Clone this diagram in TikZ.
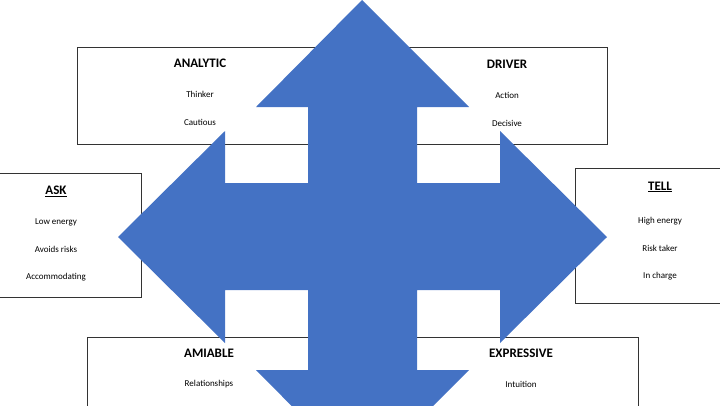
\documentclass[tikz,border=0pt]{standalone}
\usepackage{fontspec}
\setmainfont{Carlito}
\definecolor{arrowblue}{HTML}{4472C4}
\begin{document}
\begin{tikzpicture}[x=1pt,y=-1pt,
  box/.style={draw=black!80,line width=0.8pt},
  head/.style={font=\bfseries\fontsize{13}{15}\selectfont},
  item/.style={font=\fontsize{9}{11}\selectfont}]
\useasboundingbox (0,0) rectangle (720,405);
\clip (0,0) rectangle (720,405);
\draw[box] (77,47) rectangle (607,144);
\draw[box] (-2,173) rectangle (141,297);
\draw[box] (575,168) -- (615,168);
\draw[box] (722,168) -- (575,168) -- (575,303) -- (722,303);
\draw[box] (87,410) -- (87,337) -- (638,337) -- (638,410);
\fill[arrowblue] (362,0) -- (469,107) -- (417,107) -- (417,183) -- (500,183) -- (500,131)
 -- (607,237) -- (500,343) -- (500,290) -- (417,290) -- (417,370) -- (469,370)
 -- (362,477) -- (256,370) -- (308,370) -- (308,290) -- (225,290) -- (225,343)
 -- (118,237) -- (225,131) -- (225,183) -- (308,183) -- (308,107) -- (256,107) -- cycle;
\node[head] (an) at (200,63) {ANALYTIC};
\node[item] (an1) at (200,94) {Thinker};
\node[item] (an2) at (200,122) {Cautious};
\node[head] (dr) at (507,64) {DRIVER};
\node[item] (dr1) at (507,95) {Action};
\node[item] (dr2) at (507,123) {Decisive};
\node[head] (ask) at (56,191) {\underline{ASK}};
\node[item] (ask1) at (56,222) {Low energy};
\node[item] (ask2) at (56,249) {Avoids risks};
\node[item] (ask3) at (56,277) {Accommodating};
\node[head] (tell) at (660,187) {\underline{TELL}};
\node[item] (tell1) at (660,221) {High energy};
\node[item] (tell2) at (660,248) {Risk taker};
\node[item] (tell3) at (660,276) {In charge};
\node[head] (am) at (209,353) {AMIABLE};
\node[item] (am1) at (209,384) {Relationships};
\node[head] (ex) at (521,353) {EXPRESSIVE};
\node[item] (ex1) at (521,384) {Intuition};
\end{tikzpicture}
\end{document}
